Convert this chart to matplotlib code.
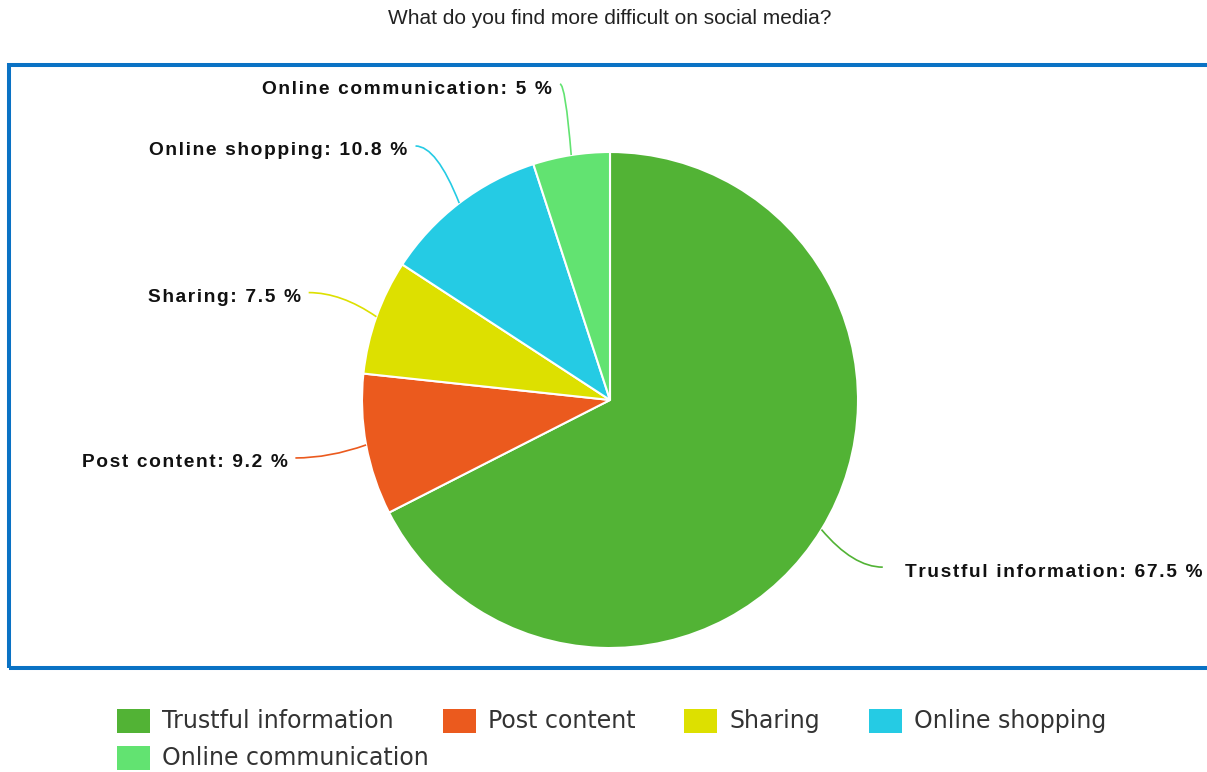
import numpy as np
import matplotlib
matplotlib.use("Agg")
import matplotlib.pyplot as plt
from matplotlib.patches import Rectangle, PathPatch
from matplotlib.path import Path

# Survey answers
categories = ["Trustful information", "Post content", "Sharing",
              "Online shopping", "Online communication"]
shares = [67.5, 9.2, 7.5, 10.8, 5.0]
colors = ["#52b335", "#eb5a1e", "#dde000", "#25cbe4", "#62e371"]
title = "What do you find more difficult on social media?"

W, H = 1207, 772
fig = plt.figure(figsize=(W / 100, H / 100), dpi=100)
ax = fig.add_axes([0, 0, 1, 1])

# Pie drawn in pixel units (y up)
cx, cy, R = 610, 372, 248
wedges, _ = ax.pie(shares, colors=colors, startangle=90, counterclock=False,
                   center=(cx, cy), radius=R,
                   wedgeprops=dict(edgecolor="white", linewidth=1.5))
ax.set_xlim(0, W)
ax.set_ylim(0, H)
ax.set_aspect("auto")
ax.axis("off")

HAIR = "\u200a"


def spaced(s):
    """Loosen the tracking of a label a little."""
    return HAIR.join(s)


label_font = dict(fontsize=13.8, fontweight="bold",
                  family=["Liberation Sans", "DejaVu Sans"], color="#111111")

# Curved connectors and labels
for w, name, val, col in zip(wedges, categories, shares, colors):
    mid = np.deg2rad((w.theta1 + w.theta2) / 2)
    u = np.array([np.cos(mid), np.sin(mid)])
    c = np.array([cx, cy])
    p0 = c + R * u
    p1 = c + 1.15 * R * u
    end = c + 1.29 * R * u
    side = 1 if u[0] > 0 else -1
    ctrl = np.array([p1[0], end[1]])
    path = Path([p0, ctrl, end], [Path.MOVETO, Path.CURVE3, Path.CURVE3])
    ax.add_patch(PathPatch(path, fill=False, edgecolor=col, lw=1.2))
    txt = spaced(f"{name}: {val:g} %")
    if side > 0:
        ax.text(end[0] + 22, end[1] - 5, txt, ha="left", va="center",
                **label_font)
    else:
        ax.text(end[0] - 8, end[1] - 5, txt, ha="right", va="center",
                **label_font)

# Frame around the plot area
ax.add_patch(Rectangle((9, H - 668), 1230, 668 - 65, fill=False,
                       edgecolor="#0a72c4", lw=2.9, clip_on=False))

# Title
ax.text(610, H - 18, title, ha="center", va="center", fontsize=15,
        family="Liberation Sans", color="#222222")

# Legend: items flow left to right, wrapping onto a second row
fs = 17
fs_px = fs * 100 / 72
box_w, box_h = 33 / fs_px, 24 / fs_px
leg_kw = dict(loc="center left", frameon=False, borderpad=0, borderaxespad=0,
              handlelength=box_w, handleheight=(box_h - 0.245) / 0.65,
              handletextpad=12 / fs_px, columnspacing=49 / fs_px,
              labelcolor="#333333", prop=dict(family="DejaVu Sans", size=fs))
rows = [[0, 1, 2, 3], [4]]
row_y = [721, 758]
for idx, y in zip(rows, row_y):
    leg = fig.legend([wedges[i] for i in idx], [categories[i] for i in idx],
                     ncol=len(idx), bbox_to_anchor=(117 / W, 1 - y / H),
                     **leg_kw)
    for h in leg.legend_handles:
        h.set_edgecolor("none")

fig.savefig("out.png", dpi=100)
